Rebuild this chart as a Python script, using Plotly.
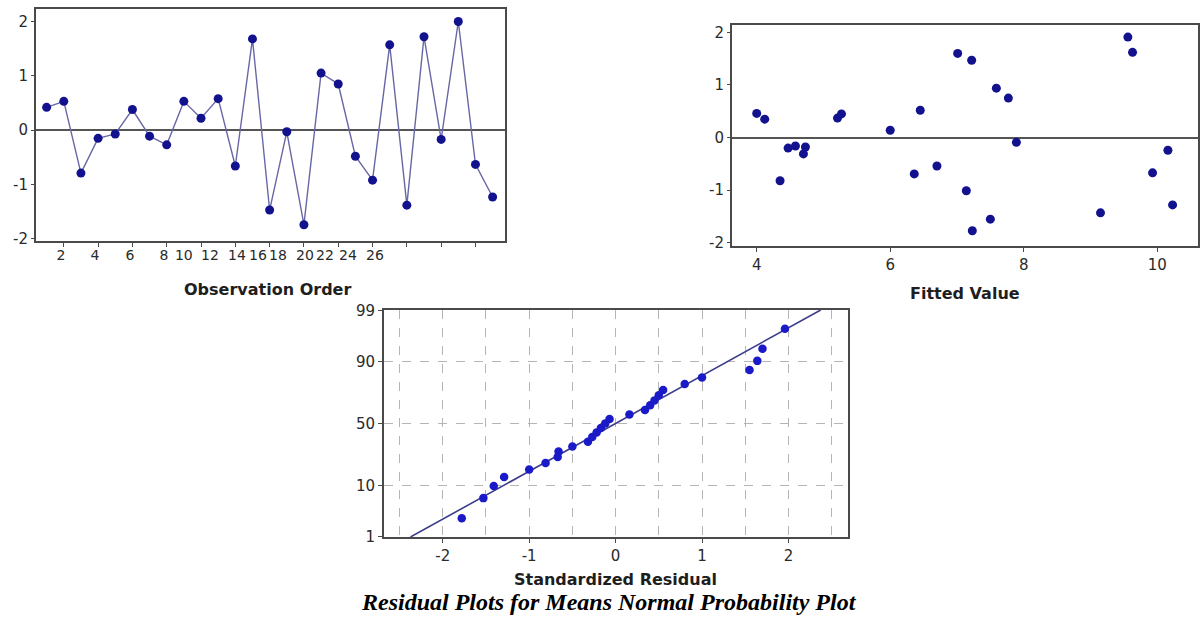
import plotly.graph_objects as go
from statistics import NormalDist

# ---------------- data ----------------
# Residuals versus observation order
order_obs = list(range(1, 28))
order_resid = [0.42, 0.53, -0.79, -0.15, -0.07, 0.38, -0.11, -0.27, 0.53, 0.22,
               0.58, -0.66, 1.68, -1.47, -0.03, -1.74, 1.05, 0.85, -0.48, -0.92,
               1.57, -1.38, 1.72, -0.17, 2.00, -0.63, -1.23]
order_tick_text = ["2", "4", "6", "8", "10", "12", "14", "16", "18", "20", "22", "24", "26"]

# Residuals versus fitted values
fitted = [4.00, 4.12, 4.35, 4.47, 4.58, 4.70, 4.73, 5.21, 5.27, 6.00, 6.36, 6.45, 6.70,
          7.01, 7.14, 7.22, 7.23, 7.50, 7.59, 7.77, 7.89, 9.15, 9.56, 9.63, 9.93, 10.16, 10.23]
fitted_resid = [0.46, 0.35, -0.82, -0.20, -0.16, -0.31, -0.18, 0.37, 0.45, 0.14, -0.69, 0.52, -0.54,
                1.60, -1.01, 1.47, -1.77, -1.55, 0.94, 0.75, -0.09, -1.43, 1.91, 1.62, -0.67, -0.24, -1.28]

# Normal probability plot (sorted standardized residuals)
std_resid = [-1.78, -1.53, -1.41, -1.29, -1.00, -0.81, -0.67, -0.66, -0.50, -0.32,
             -0.27, -0.22, -0.17, -0.12, -0.07, 0.16, 0.34, 0.40, 0.45, 0.50,
             0.55, 0.80, 1.00, 1.55, 1.64, 1.70, 1.96]
percent_ticks = [1, 10, 50, 90, 99]
resid_ticks = [-2, -1, 0, 1, 2]
resid_tick_text = ["-2", "-1", "0", "1", "2"]
fitted_ticks = [4, 6, 8, 10]
fit_mean = 0.0
fit_sd = 1.015

# ---------------- derived ----------------
nd = NormalDist()
n = len(std_resid)
prob_z = [nd.inv_cdf((i + 1 - 0.3) / (n + 0.4)) for i in range(n)]
pct_z = [nd.inv_cdf(p / 100) for p in percent_ticks]
z_lim = pct_z[-1] + 0.012
line_z = [-z_lim, z_lim]
line_x = [fit_mean + fit_sd * z for z in line_z]

# ---------------- styling ----------------
FRAME = "#4a4a4a"
TICKFONT = dict(family="DejaVu Sans, Verdana, sans-serif", size=15, color="#2a2a2a")
ORDERFONT = dict(family="DejaVu Sans, Verdana, sans-serif", size=14, color="#2a2a2a")
DOT = "#12128f"
DOT3 = "#1a1ac8"

# where the (misaligned) labels of the order axis sit, in observation units
order_label_pos = [1.83, 3.82, 5.86, 7.84, 9.0, 10.52, 12.1, 13.32, 14.49, 16.06, 17.23, 18.57, 20.14]
order_tick_pos = [2, 4, 6, 8, 10, 12, 14, 16, 18, 20, 22, 24, 26]

fig = go.Figure()

fig.add_trace(go.Scatter(
    x=order_obs, y=order_resid, mode="lines+markers",
    line=dict(color="#6767a6", width=1.4),
    marker=dict(color=DOT, size=9),
    xaxis="x", yaxis="y", showlegend=False))

fig.add_trace(go.Scatter(
    x=fitted, y=fitted_resid, mode="markers",
    marker=dict(color=DOT, size=9),
    xaxis="x2", yaxis="y2", showlegend=False))

fig.add_trace(go.Scatter(
    x=line_x, y=line_z, mode="lines",
    line=dict(color="#3c3c8c", width=1.6),
    xaxis="x3", yaxis="y3", showlegend=False, hoverinfo="skip"))

fig.add_trace(go.Scatter(
    x=std_resid, y=prob_z, mode="markers",
    marker=dict(color=DOT3, size=8.5),
    xaxis="x3", yaxis="y3", showlegend=False))

frame = dict(showline=True, mirror=True, linecolor=FRAME, linewidth=2, showgrid=False)
GRID = dict(showgrid=True, gridcolor="#b5b5b5", griddash="dash", gridwidth=1)

fig.update_layout(
    width=1200, height=617,
    margin=dict(l=0, r=0, t=0, b=0, autoexpand=False),
    paper_bgcolor="white", plot_bgcolor="white",
    xaxis=dict(domain=[0.030, 0.4208], range=[0.38, 27.72], anchor="y",
               tickmode="array", tickvals=order_label_pos, ticktext=order_tick_text,
               ticks="", zeroline=False, tickfont=ORDERFONT,
               minor=dict(tickmode="array", tickvals=order_tick_pos, ticks="outside",
                          ticklen=4, tickcolor=FRAME, showgrid=False),
               **frame),
    yaxis=dict(domain=[0.6094, 0.9854], range=[-2.04, 2.23], anchor="x",
               tickmode="array", tickvals=resid_ticks, ticktext=resid_tick_text,
               ticks="outside", ticklen=3, tickcolor=FRAME, tickfont=TICKFONT,
               zeroline=True, zerolinecolor="#555555", zerolinewidth=1.5,
               **frame),
    xaxis2=dict(domain=[0.610, 0.9983], range=[3.63, 10.61], anchor="y2",
                tickvals=fitted_ticks, ticks="outside", ticklen=4, tickcolor=FRAME,
                tickfont=TICKFONT, zeroline=False, **frame),
    yaxis2=dict(domain=[0.6005, 0.9595], range=[-2.07, 2.14], anchor="x2",
                tickmode="array", tickvals=resid_ticks, ticktext=resid_tick_text,
                ticks="outside", ticklen=3, tickcolor=FRAME, tickfont=TICKFONT,
                zeroline=True, zerolinecolor="#555555", zerolinewidth=1.5,
                **frame),
    xaxis3=dict(domain=[0.320, 0.7067], range=[-2.68, 2.69], anchor="y3",
                tickmode="array", tickvals=resid_ticks, ticktext=resid_tick_text,
                ticks="outside", ticklen=4, tickcolor=FRAME, tickfont=TICKFONT,
                zeroline=False,
                showline=True, mirror=True, linecolor=FRAME, linewidth=2,
                minor=dict(tickmode="array", tickvals=[-2.5, -1.5, -0.5, 0.5, 1.5, 2.5],
                           ticks="", **GRID),
                **GRID),
    yaxis3=dict(domain=[0.1297, 0.4976], range=[-z_lim, z_lim], anchor="x3",
                tickmode="array", tickvals=pct_z, ticktext=[str(p) for p in percent_ticks],
                ticks="outside", ticklen=4, tickcolor=FRAME, tickfont=TICKFONT,
                zeroline=False,
                showline=True, mirror=True, linecolor=FRAME, linewidth=2,
                **GRID),
)

title_font = dict(family="DejaVu Sans, Verdana, sans-serif", size=16, color="#1e1e1e")
ann = dict(xref="paper", yref="paper", showarrow=False, xanchor="center", yanchor="middle")
fig.add_annotation(text="<b>Observation Order</b>", x=0.2225, y=0.530, font=title_font, **ann)
fig.add_annotation(text="<b>Fitted Value</b>", x=0.804, y=0.525, font=title_font, **ann)
fig.add_annotation(text="<b>Standardized Residual</b>", x=0.5125, y=0.060, font=title_font, **ann)
fig.add_annotation(text="<b><i>Residual Plots for Means Normal Probability Plot</i></b>",
                   x=0.5075, y=0.025, **ann,
                   font=dict(family="Liberation Serif, Times New Roman, serif", size=24, color="#000000"))

fig.write_html("out.html", config={"displayModeBar": False},
               post_script="document.body.style.margin='0px';document.body.style.overflow='hidden';")
